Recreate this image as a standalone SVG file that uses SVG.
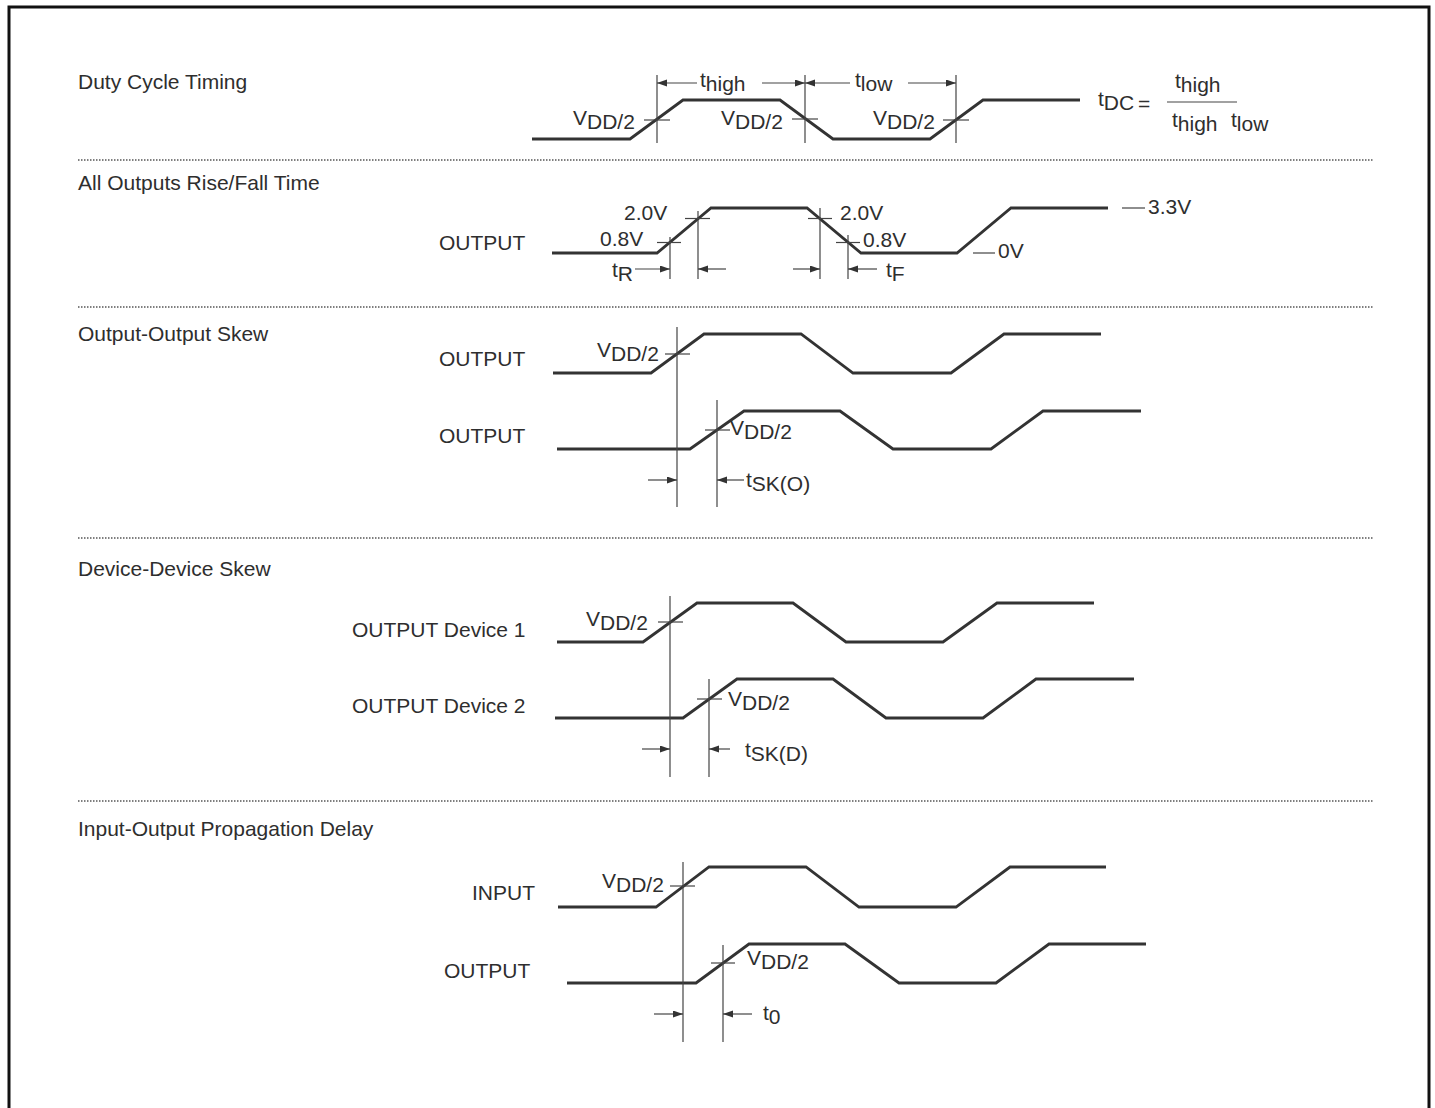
<svg xmlns="http://www.w3.org/2000/svg" width="1435" height="1108" viewBox="0 0 1435 1108">
<style>
text{font-family:"Liberation Sans",Arial,sans-serif;font-size:21px;fill:#2e2e2e}
.wave{fill:none;stroke:#333;stroke-width:2.8;stroke-linejoin:miter}
.thin{fill:none;stroke:#444;stroke-width:1.2}
.arr{fill:none;stroke:#444;stroke-width:1.2;marker-end:url(#ah)}
.dot{fill:none;stroke:#555;stroke-width:1.6;stroke-dasharray:1.5 1.5}
</style>
<defs>
<marker id="ah" markerUnits="userSpaceOnUse" markerWidth="11" markerHeight="8" refX="10" refY="3.5" orient="auto">
<path d="M0,0 L10,3.5 L0,7 z" fill="#333"/>
</marker>
</defs>
<rect width="1435" height="1108" fill="#fff"/>
<path d="M9,1112 V7 H1429 V1112" fill="none" stroke="#111" stroke-width="3"/>

<g id="separators">
<line class="dot" x1="78" y1="160" x2="1373" y2="160"/>
<line class="dot" x1="78" y1="307" x2="1373" y2="307"/>
<line class="dot" x1="78" y1="538" x2="1373" y2="538"/>
<line class="dot" x1="78" y1="801" x2="1373" y2="801"/>
</g>

<g id="duty-cycle">
<text x="78" y="89">Duty Cycle Timing</text>
<path class="wave" d="M532,139 H630 L683,100 H780 L833,139 H930 L983,100 H1080"/>
<text x="573" y="125">V<tspan dy="4">DD/2</tspan></text>
<text x="721" y="125">V<tspan dy="4">DD/2</tspan></text>
<text x="873" y="125">V<tspan dy="4">DD/2</tspan></text>
<text x="700" y="87">t<tspan dy="4">high</tspan></text>
<text x="855" y="87">t<tspan dy="4">low</tspan></text>
<text x="1098" y="106">t<tspan dy="4">DC</tspan></text>
<text x="1138" y="111">=</text>
<text x="1175" y="88">t<tspan dy="4">high</tspan></text>
<line class="thin" x1="1167" y1="102" x2="1237" y2="102" stroke-width="1.5"/>
<text x="1172" y="127">t<tspan dy="4">high</tspan></text>
<text x="1231" y="127">t<tspan dy="4">low</tspan></text>
</g>

<g id="rise-fall">
<text x="78" y="190">All Outputs Rise/Fall Time</text>
<text x="439" y="250">OUTPUT</text>
<path class="wave" d="M552,253 H657 L711,208 H807 L861,253 H957 L1011,208 H1108"/>
<text x="624" y="220">2.0V</text>
<text x="600" y="246">0.8V</text>
<text x="612" y="277">t<tspan dy="4">R</tspan></text>
<text x="840" y="220">2.0V</text>
<text x="863" y="247">0.8V</text>
<text x="886" y="277">t<tspan dy="4">F</tspan></text>
<text x="1148" y="214">3.3V</text>
<text x="998" y="258">0V</text>
</g>

<g id="output-output-skew">
<text x="78" y="341">Output-Output Skew</text>
<text x="439" y="366">OUTPUT</text>
<text x="439" y="443">OUTPUT</text>
<path class="wave" d="M553,373 H651 L704,334 H801 L853,373 H951 L1004,334 H1101"/>
<path class="wave" d="M557,449 H690 L744,411 H840 L893,449 H991 L1043,411 H1141"/>
<text x="597" y="357">V<tspan dy="4">DD/2</tspan></text>
<text x="730" y="435">V<tspan dy="4">DD/2</tspan></text>
<text x="746" y="487">t<tspan dy="4">SK(O)</tspan></text>
</g>

<g id="device-device-skew">
<text x="78" y="576">Device-Device Skew</text>
<text x="352" y="637">OUTPUT Device 1</text>
<text x="352" y="713">OUTPUT Device 2</text>
<path class="wave" d="M557,642 H643 L697,603 H793 L846,642 H943 L997,603 H1094"/>
<path class="wave" d="M555,718 H683 L737,679 H833 L886,718 H983 L1036,679 H1134"/>
<text x="586" y="626">V<tspan dy="4">DD/2</tspan></text>
<text x="728" y="706">V<tspan dy="4">DD/2</tspan></text>
<text x="745" y="757">t<tspan dy="4">SK(D)</tspan></text>
</g>

<g id="propagation-delay">
<text x="78" y="836">Input-Output Propagation Delay</text>
<text x="472" y="900">INPUT</text>
<text x="444" y="978">OUTPUT</text>
<path class="wave" d="M558,907 H656 L709,867 H806 L859,907 H956 L1010,867 H1106"/>
<path class="wave" d="M567,983 H696 L749,944 H845 L899,983 H996 L1049,944 H1146"/>
<text x="602" y="888">V<tspan dy="4">DD/2</tspan></text>
<text x="747" y="965">V<tspan dy="4">DD/2</tspan></text>
<text x="763" y="1020">t<tspan dy="4">0</tspan></text>
</g>

<g id="connectors">
<!-- duty cycle -->
<line class="thin" x1="657" y1="75" x2="657" y2="143"/>
<line class="thin" x1="805" y1="75" x2="805" y2="143"/>
<line class="thin" x1="956" y1="75" x2="956" y2="143"/>
<line class="thin" x1="644" y1="120" x2="670" y2="120"/>
<line class="thin" x1="792" y1="119" x2="818" y2="119"/>
<line class="thin" x1="943" y1="120" x2="969" y2="120"/>
<line class="arr" x1="697" y1="83" x2="657" y2="83"/>
<line class="arr" x1="762" y1="83" x2="805" y2="83"/>
<line class="arr" x1="850" y1="83" x2="805" y2="83"/>
<line class="arr" x1="908" y1="83" x2="956" y2="83"/>
<!-- rise/fall -->
<line class="thin" x1="670" y1="237" x2="670" y2="279"/>
<line class="thin" x1="698" y1="211" x2="698" y2="279"/>
<line class="thin" x1="820" y1="208" x2="820" y2="279"/>
<line class="thin" x1="848" y1="235" x2="848" y2="279"/>
<line class="thin" x1="657" y1="242.5" x2="681" y2="242.5"/>
<line class="thin" x1="685" y1="218.5" x2="710" y2="218.5"/>
<line class="thin" x1="808" y1="218.5" x2="832" y2="218.5"/>
<line class="thin" x1="836" y1="242.5" x2="860" y2="242.5"/>
<line class="arr" x1="635" y1="269" x2="670" y2="269"/>
<line class="arr" x1="726" y1="269" x2="698" y2="269"/>
<line class="arr" x1="793" y1="269" x2="820" y2="269"/>
<line class="arr" x1="877" y1="269" x2="848" y2="269"/>
<line class="thin" x1="1122" y1="208" x2="1145" y2="208"/>
<line class="thin" x1="973" y1="253" x2="995" y2="253"/>
<!-- output-output skew -->
<line class="thin" x1="677" y1="327" x2="677" y2="507"/>
<line class="thin" x1="717" y1="400" x2="717" y2="507"/>
<line class="thin" x1="665" y1="354" x2="690" y2="354"/>
<line class="thin" x1="705" y1="430" x2="730" y2="430"/>
<line class="arr" x1="648" y1="480" x2="677" y2="480"/>
<line class="arr" x1="744" y1="480" x2="717" y2="480"/>
<!-- device-device skew -->
<line class="thin" x1="670" y1="596" x2="670" y2="777"/>
<line class="thin" x1="709" y1="679" x2="709" y2="777"/>
<line class="thin" x1="658" y1="622" x2="683" y2="622"/>
<line class="thin" x1="697" y1="699" x2="722" y2="699"/>
<line class="arr" x1="642" y1="749" x2="670" y2="749"/>
<line class="arr" x1="730" y1="749" x2="709" y2="749"/>
<!-- propagation delay -->
<line class="thin" x1="683" y1="862" x2="683" y2="1042"/>
<line class="thin" x1="723" y1="945" x2="723" y2="1042"/>
<line class="thin" x1="670" y1="886" x2="695" y2="886"/>
<line class="thin" x1="711" y1="963" x2="735" y2="963"/>
<line class="arr" x1="654" y1="1014" x2="683" y2="1014"/>
<line class="arr" x1="752" y1="1014" x2="723" y2="1014"/>
</g>
</svg>
